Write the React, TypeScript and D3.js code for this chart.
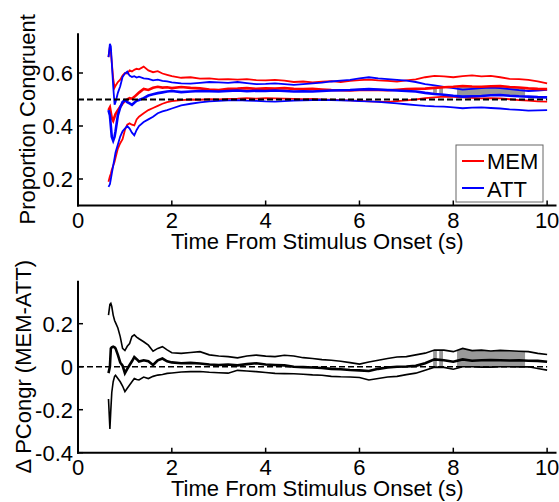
import React from 'react';
import * as d3 from 'd3';

// Time points (s)
const TIME = [
  0.65, 0.68, 0.7, 0.72, 0.75, 0.78, 0.8, 0.85, 0.9, 0.95, 1.0, 1.05, 1.1, 1.15, 1.2, 1.25, 1.3,
  1.4, 1.5, 1.6, 1.7, 1.8, 1.9, 2.0,
  2.2, 2.4, 2.6, 2.8, 3.0, 3.2, 3.4, 3.6, 3.8, 4.0,
  4.2, 4.4, 4.6, 4.8, 5.0, 5.2, 5.4, 5.6, 5.8, 6.0,
  6.2, 6.4, 6.6, 6.8, 7.0, 7.2, 7.4, 7.6, 7.8, 8.0,
  8.2, 8.4, 8.6, 8.8, 9.0, 9.2, 9.4, 9.6, 9.8, 10.0,
];

const memUpper = [
  0.66, 0.70, 0.68, 0.64, 0.58, 0.545, 0.552, 0.566, 0.575, 0.59, 0.60, 0.598, 0.61, 0.606, 0.612, 0.616, 0.614,
  0.624, 0.61, 0.603, 0.607, 0.598, 0.593, 0.588,
  0.582, 0.584, 0.579, 0.58, 0.576, 0.577, 0.575, 0.577, 0.573, 0.572,
  0.574, 0.571, 0.566, 0.568, 0.565, 0.567, 0.569, 0.566, 0.57, 0.573,
  0.575, 0.572, 0.57, 0.568, 0.572, 0.576, 0.584, 0.589, 0.587, 0.584,
  0.588, 0.591, 0.587, 0.589, 0.584, 0.578, 0.577, 0.574, 0.568, 0.561,
];
const memMean = [
  0.46, 0.47, 0.45, 0.43, 0.42, 0.435, 0.445, 0.46, 0.473, 0.485, 0.495, 0.5, 0.505, 0.503, 0.51, 0.518, 0.526,
  0.54, 0.536, 0.544, 0.548, 0.545, 0.546, 0.543,
  0.547, 0.544, 0.542, 0.538, 0.536, 0.54, 0.541, 0.543, 0.54, 0.542,
  0.541, 0.543, 0.54, 0.539, 0.54, 0.538, 0.536, 0.535, 0.534, 0.536,
  0.537, 0.536, 0.535, 0.537, 0.539, 0.54, 0.541, 0.544, 0.546, 0.548,
  0.551, 0.549, 0.548, 0.55, 0.551, 0.547, 0.545, 0.542, 0.54, 0.539,
];
const memLower = [
  0.19, 0.21, 0.22, 0.235, 0.25, 0.265, 0.28, 0.315, 0.335, 0.35, 0.385, 0.405, 0.41, 0.405, 0.402, 0.425, 0.435,
  0.448, 0.46, 0.468, 0.476, 0.484, 0.49, 0.494,
  0.498, 0.5, 0.499, 0.501, 0.5, 0.502, 0.503, 0.505, 0.503, 0.505,
  0.504, 0.503, 0.502, 0.501, 0.502, 0.5, 0.499, 0.498, 0.497, 0.495,
  0.493, 0.492, 0.491, 0.494, 0.497, 0.5, 0.505, 0.508, 0.511, 0.51,
  0.508, 0.506, 0.504, 0.505, 0.504, 0.501, 0.498, 0.496, 0.493, 0.492,
];
const attUpper = [
  0.66, 0.71, 0.70, 0.64, 0.55, 0.48, 0.49, 0.525, 0.55, 0.585, 0.598, 0.605, 0.59, 0.585, 0.588, 0.583, 0.586,
  0.58, 0.578, 0.572, 0.575, 0.57, 0.568, 0.565,
  0.561, 0.56, 0.563, 0.566, 0.565, 0.563, 0.566, 0.562, 0.558, 0.559,
  0.561, 0.558, 0.555, 0.558, 0.561, 0.564, 0.568, 0.571, 0.574, 0.58,
  0.584, 0.58, 0.577, 0.574, 0.571, 0.566, 0.558, 0.553, 0.548, 0.543,
  0.537, 0.54, 0.543, 0.545, 0.543, 0.539, 0.535, 0.532, 0.534, 0.536,
];
const attMean = [
  0.46, 0.44, 0.40, 0.36, 0.345, 0.36, 0.38, 0.44, 0.47, 0.49, 0.498, 0.49, 0.485, 0.48, 0.488, 0.495, 0.498,
  0.505, 0.515, 0.52, 0.524, 0.527, 0.53, 0.532,
  0.528, 0.53, 0.532, 0.531, 0.53, 0.532, 0.534, 0.531, 0.533, 0.532,
  0.534, 0.532, 0.53, 0.531, 0.53, 0.532, 0.534, 0.535, 0.536, 0.538,
  0.539, 0.538, 0.536, 0.534, 0.532, 0.53, 0.525, 0.521, 0.518, 0.514,
  0.511, 0.512, 0.513, 0.516, 0.517, 0.514, 0.512, 0.511, 0.509, 0.508,
];
const attLower = [
  0.17, 0.18, 0.2, 0.22, 0.25, 0.28, 0.3, 0.33, 0.36, 0.38, 0.39, 0.4, 0.39, 0.375, 0.365, 0.385, 0.4,
  0.415, 0.425, 0.435, 0.448, 0.455, 0.46, 0.466,
  0.478, 0.484, 0.489, 0.493, 0.495, 0.497, 0.498, 0.496, 0.495, 0.493,
  0.492, 0.494, 0.496, 0.497, 0.498, 0.499, 0.498, 0.497, 0.496, 0.494,
  0.493, 0.491, 0.488, 0.485, 0.482, 0.479, 0.476, 0.474, 0.473, 0.47,
  0.467, 0.469, 0.47, 0.468, 0.466, 0.463, 0.461, 0.458, 0.459, 0.46,
];

const diffUpper = [
  0.24, 0.29, 0.295, 0.28, 0.24, 0.215, 0.205, 0.18, 0.14, 0.085, 0.075, 0.095, 0.108, 0.14, 0.148, 0.138, 0.13,
  0.116, 0.1, 0.072, 0.085, 0.093, 0.078, 0.065,
  0.062, 0.066, 0.07, 0.055, 0.05, 0.047, 0.041, 0.05, 0.054, 0.049,
  0.047, 0.053, 0.05, 0.042, 0.038, 0.033, 0.03, 0.025, 0.019, 0.012,
  0.022, 0.03, 0.038, 0.045, 0.047, 0.055, 0.063, 0.078, 0.077, 0.07,
  0.085, 0.075, 0.077, 0.073, 0.076, 0.074, 0.072, 0.07, 0.062, 0.057,
];
const diffMean = [
  -0.03, 0.0, 0.085, 0.09, 0.093, 0.09, 0.085, 0.055, 0.02, 0.005, -0.03, -0.01, 0.008, 0.025, 0.045, 0.035, 0.024,
  0.03, 0.025, 0.008, 0.03, 0.038, 0.025, 0.02,
  0.016, 0.018, 0.015, 0.01, 0.008, 0.01, 0.006, 0.012, 0.016, 0.01,
  0.008, 0.006, 0.0, -0.002, -0.004, -0.006, -0.01, -0.012, -0.015, -0.017,
  -0.02, -0.01, -0.004, 0.0, 0.001, 0.004, 0.016, 0.034, 0.03, 0.023,
  0.034, 0.028, 0.03, 0.031, 0.03, 0.029, 0.03, 0.028, 0.027, 0.023,
];
const diffLower = [
  -0.15, -0.29, -0.2, -0.12, -0.07, -0.045, -0.04, -0.055, -0.07, -0.09, -0.116, -0.1, -0.085, -0.07, -0.055, -0.06, -0.062,
  -0.048, -0.055, -0.045, -0.039, -0.036, -0.031, -0.029,
  -0.025, -0.023, -0.022, -0.026, -0.028, -0.03, -0.017, -0.02, -0.023, -0.027,
  -0.031, -0.032, -0.033, -0.035, -0.038, -0.04, -0.045, -0.047, -0.048, -0.05,
  -0.062, -0.055, -0.048, -0.045, -0.037, -0.03, -0.016, -0.002, -0.003, -0.012,
  0.0, 0.0, -0.002, -0.002, 0.0, 0.0, -0.001, 0.0, -0.008, -0.016,
];

// significant intervals (s)
const SIG = [
  [7.57, 7.65],
  [7.7, 7.78],
  [8.08, 9.53],
];

const X_TICKS = [0, 2, 4, 6, 8, 10];
const TOP_Y_TICKS = [0.2, 0.4, 0.6];
const BOT_Y_TICKS = [-0.4, -0.2, 0, 0.2];
const LEGEND = [
  { label: 'MEM', color: '#ff0000' },
  { label: 'ATT', color: '#0000ff' },
];

const FONT = '"Liberation Sans", Arial, Helvetica, sans-serif';

export default function App() {
  const W = 559;
  const H = 502;
  const x = d3.scaleLinear().domain([0, 10.2]).range([78, 556.5]);
  const yTop = d3.scaleLinear().domain([0.1, 0.75]).range([205.5, 33.25]);
  const yBot = d3.scaleLinear().domain([-0.4, 0.4]).range([452.7, 280.7]);

  const lineTop = d3
    .line<number>()
    .x((_, i) => x(TIME[i]))
    .y((d) => yTop(d));
  const lineBot = d3
    .line<number>()
    .x((_, i) => x(TIME[i]))
    .y((d) => yBot(d));

  const areaTop = d3
    .area<number>()
    .x((_, i) => x(TIME[i]))
    .y0((_, i) => yTop(attMean[i]))
    .y1((_, i) => yTop(memMean[i]));
  const areaBot = d3
    .area<number>()
    .x((_, i) => x(TIME[i]))
    .y0((_, i) => yBot(diffLower[i]))
    .y1((_, i) => yBot(diffUpper[i]));

  const clipRects = SIG.map(([a, b], i) => (
    <rect key={i} x={x(a)} y={0} width={x(b) - x(a)} height={H} />
  ));

  const renderAxes = (
    y: d3.ScaleLinear<number, number>,
    yTicks: number[],
    yLabel: string,
    yLabelX: number
  ) => {
    const [y0, y1] = y.range();
    const yMid = (y0 + y1) / 2;
    return (
      <g>
        <line x1={x(0)} x2={x(0)} y1={y0 + 1} y2={y1} stroke="#000" strokeWidth={2} />
        <line x1={x(0) - 1} x2={x.range()[1]} y1={y0} y2={y0} stroke="#000" strokeWidth={2} />
        {X_TICKS.map((t) => (
          <g key={'x' + t}>
            <line x1={x(t)} x2={x(t)} y1={y0} y2={y0 - 5} stroke="#000" strokeWidth={1.5} />
            <text x={x(t)} y={y0 + 22.5} textAnchor="middle" fontSize={22} fontFamily={FONT}>
              {String(t)}
            </text>
          </g>
        ))}
        {yTicks.map((v) => (
          <g key={'y' + v}>
            <line x1={x(0)} x2={x(0) + 5} y1={y(v)} y2={y(v)} stroke="#000" strokeWidth={1.5} />
            <text x={x(0) - 5} y={y(v) + 8} textAnchor="end" fontSize={22} fontFamily={FONT}>
              {String(v)}
            </text>
          </g>
        ))}
        <text
          x={(x.range()[0] + x.range()[1]) / 2}
          y={y0 + 43.5}
          textAnchor="middle"
          fontSize={22}
          fontFamily={FONT}
        >
          Time From Stimulus Onset (s)
        </text>
        <text
          transform={`translate(${yLabelX},${yMid}) rotate(-90)`}
          textAnchor="middle"
          fontSize={22}
          fontFamily={FONT}
        >
          {yLabel}
        </text>
      </g>
    );
  };

  return (
    <svg
      width={W}
      height={H}
      viewBox={`0 0 ${W} ${H}`}
      style={{ position: 'absolute', left: 0, top: 0, background: '#fff' }}
    >
      <defs>
        <clipPath id="sigClip">{clipRects}</clipPath>
      </defs>
      <rect x={0} y={0} width={W} height={H} fill="#fff" />

      {/* Top panel */}
      <path d={areaTop(memMean) || ''} fill="#999" clipPath="url(#sigClip)" />
      <path d={lineTop(memUpper) || ''} fill="none" stroke="#ff0000" strokeWidth={1.8} />
      <path d={lineTop(memLower) || ''} fill="none" stroke="#ff0000" strokeWidth={1.8} />
      <path d={lineTop(attUpper) || ''} fill="none" stroke="#0000ff" strokeWidth={1.8} />
      <path d={lineTop(attLower) || ''} fill="none" stroke="#0000ff" strokeWidth={1.8} />
      <path d={lineTop(memMean) || ''} fill="none" stroke="#ff0000" strokeWidth={2.6} />
      <path d={lineTop(attMean) || ''} fill="none" stroke="#0000ff" strokeWidth={2.6} />
      <line
        x1={x(0)}
        x2={x(10)}
        y1={yTop(0.5)}
        y2={yTop(0.5)}
        stroke="#000"
        strokeWidth={2}
        strokeDasharray="6,3"
      />
      {renderAxes(yTop, TOP_Y_TICKS, 'Proportion Congruent', 35)}

      {/* Legend */}
      <g>
        <rect x={456} y={145} width={87} height={57} fill="#fff" stroke="#666" strokeWidth={1} />
        {LEGEND.map((d, i) => (
          <g key={d.label}>
            <line x1={462} x2={484} y1={161 + i * 27} y2={161 + i * 27} stroke={d.color} strokeWidth={2} />
            <text x={487} y={168.5 + i * 28} fontSize={22} fontFamily={FONT}>
              {d.label}
            </text>
          </g>
        ))}
      </g>

      {/* Bottom panel */}
      <path d={areaBot(diffMean) || ''} fill="#999" clipPath="url(#sigClip)" />
      <path d={lineBot(diffUpper) || ''} fill="none" stroke="#000" strokeWidth={1.6} />
      <path d={lineBot(diffLower) || ''} fill="none" stroke="#000" strokeWidth={1.6} />
      <path d={lineBot(diffMean) || ''} fill="none" stroke="#000" strokeWidth={2.6} />
      <line
        x1={x(0)}
        x2={x(10)}
        y1={yBot(0)}
        y2={yBot(0)}
        stroke="#000"
        strokeWidth={1.5}
        strokeDasharray="6,3"
      />
      {renderAxes(yBot, BOT_Y_TICKS, 'Δ PCongr (MEM-ATT)', 31)}
    </svg>
  );
}
